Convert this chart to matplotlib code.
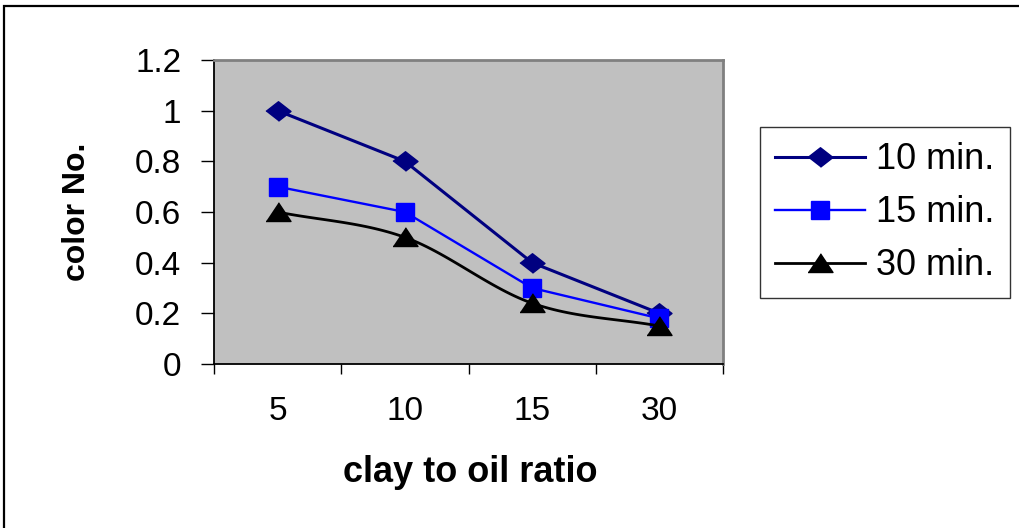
import matplotlib
matplotlib.use("Agg")
import matplotlib.pyplot as plt
import numpy as np
from matplotlib.patches import Rectangle

plt.rcParams['font.family'] = ['Liberation Sans', 'DejaVu Sans']

ratios = ['5', '10', '15', '30']
series_names = ['10 min.', '15 min.', '30 min.']
color_10 = [1.0, 0.8, 0.4, 0.2]
color_15 = [0.7, 0.6, 0.3, 0.18]
color_30 = [0.6, 0.5, 0.24, 0.15]

# wide, flat marker shapes
diamond = [(-1, 0), (0, 0.78), (1, 0), (0, -0.78)]
triangle = [(-1, -0.72), (1, -0.72), (0, 0.78)]


def smooth(xs, ys, n=30):
    # Catmull-Rom style curve through the points (like a smoothed line in a spreadsheet)
    xs = np.asarray(xs, float)
    ys = np.asarray(ys, float)
    k = len(xs)
    mx, my = np.zeros(k), np.zeros(k)
    for i in range(k):
        a, b = max(i - 1, 0), min(i + 1, k - 1)
        mx[i] = (xs[b] - xs[a]) / (b - a)
        my[i] = (ys[b] - ys[a]) / (b - a)
    ox, oy = [], []
    t = np.linspace(0, 1, n)
    h00 = 2 * t**3 - 3 * t**2 + 1
    h10 = t**3 - 2 * t**2 + t
    h01 = -2 * t**3 + 3 * t**2
    h11 = t**3 - t**2
    for i in range(k - 1):
        ox.extend(h00 * xs[i] + h10 * mx[i] + h01 * xs[i + 1] + h11 * mx[i + 1])
        oy.extend(h00 * ys[i] + h10 * my[i] + h01 * ys[i + 1] + h11 * my[i + 1])
    return ox, oy


W, H = 1020, 528
fig = plt.figure(figsize=(W / 100, H / 100), dpi=100)
fig.patch.set_facecolor('white')

# outer chart border (right and bottom edges fall outside the image)
fig.patches.append(Rectangle((4 / W, -0.1), 1.2, 1 - 5.5 / H + 0.1, transform=fig.transFigure,
                             fill=False, edgecolor='black', linewidth=1.6))

ax = fig.add_axes([214 / W, (H - 364) / H, (723 - 214) / W, (364 - 60) / H])
ax.set_facecolor('#C0C0C0')

x = np.arange(len(ratios))
ax.plot(x, color_10, color='#000080', lw=2.2, marker=diamond, ms=18, label=series_names[0])
ax.plot(x, color_15, color='#0000FF', lw=1.7, marker='s', ms=13.5, label=series_names[1])
sx, sy = smooth(x, color_30)
ax.plot(sx, sy, color='black', lw=2.0)
ax.plot(x, color_30, color='black', lw=0, marker=triangle, ms=18)
ax.plot([], [], color='black', lw=2.0, marker=triangle, ms=18, label=series_names[2])

ax.set_xlim(-0.5, len(ratios) - 0.5)
ax.set_ylim(0, 1.2)
ax.set_yticks(np.arange(0, 1.21, 0.2))
ax.set_yticklabels(['0', '0.2', '0.4', '0.6', '0.8', '1', '1.2'])
ax.set_xticks(np.arange(-0.5, len(ratios)), labels=[''] * (len(ratios) + 1))
ax.set_xticks(x, labels=ratios, minor=True)
ax.tick_params(axis='x', which='major', length=7, width=1, direction='out')
ax.tick_params(axis='x', which='minor', length=0, pad=23, labelsize=24)
ax.tick_params(axis='y', length=9.5, width=1, direction='out', pad=14, labelsize=24)

for s in ('left', 'bottom'):
    ax.spines[s].set_color('black')
    ax.spines[s].set_linewidth(1.3)
for s in ('top', 'right'):
    ax.spines[s].set_color('#808080')
    ax.spines[s].set_linewidth(2)

fig.text(470 / W, 1 - 472 / H, 'clay to oil ratio', ha='center', va='center',
         fontsize=26, fontweight='bold')
fig.text(77 / W, 1 - 212 / H, 'color No.', ha='center', va='center', rotation=90,
         fontsize=23, fontweight='bold')

leg = fig.legend(loc='upper left', bbox_to_anchor=(760 / W, 1 - 127 / H), fontsize=26,
                 frameon=True, fancybox=False, shadow=False, handlelength=2.5,
                 handletextpad=0.3, labelspacing=0.5, borderpad=0.42, borderaxespad=0)
leg.get_frame().set_edgecolor('black')
leg.get_frame().set_linewidth(1.0)

fig.savefig('out.png', dpi=100)
